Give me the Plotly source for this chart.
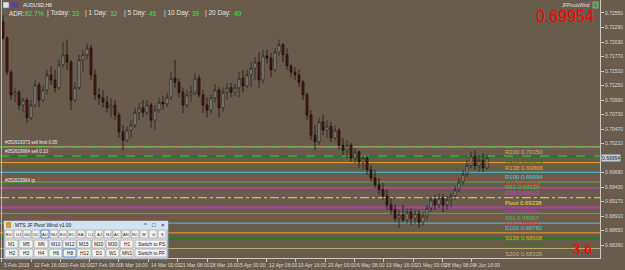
import plotly.graph_objects as go

# ---------------- DATA ----------------
opens = [0.7239,0.7210,0.7149,0.7108,0.7113,0.7090,0.7099,0.7067,0.7090,0.7126,
         0.7099,0.7117,0.7144,0.7135,0.7121,0.7162,0.7180,0.7167,0.7099,0.7121,
         0.7171,0.7180,0.7192,0.7144,0.7108,0.7103,0.7095,0.7085,0.7090,0.7072,
         0.7042,0.7027,0.7045,0.7054,0.7077,0.7085,0.7077,0.7090,0.7063,0.7081,
         0.7095,0.7092,0.7104,0.7138,0.7131,0.7113,0.7090,0.7108,0.7113,0.7138,
         0.7108,0.7090,0.7081,0.7103,0.7117,0.7085,0.7113,0.7121,0.7113,0.7121,
         0.7138,0.7124,0.7144,0.7156,0.7167,0.7135,0.7178,0.7174,0.7153,0.7185,
         0.7198,0.7180,0.7160,0.7149,0.7144,0.7131,0.7108,0.7072,0.7036,0.7024,
         0.7060,0.7045,0.7052,0.7031,0.7045,0.7018,0.7009,0.7018,0.6995,0.7006,
         0.6988,0.6995,0.6974,0.6959,0.6947,0.6938,0.6927,0.6911,0.6902,0.6887,
         0.6893,0.6884,0.6898,0.6887,0.6895,0.6880,0.6891,0.6905,0.6920,0.6911,
         0.6923,0.6911,0.6920,0.6927,0.6938,0.6952,0.6966,0.6982,0.6999,0.6981,
         0.6991,0.6977]
highs = [0.7251,0.7214,0.7153,0.7121,0.7117,0.7103,0.7103,0.7099,0.7135,0.7131,
         0.7124,0.7153,0.7160,0.7153,0.7171,0.7203,0.7207,0.7171,0.7131,0.7180,
         0.7189,0.7201,0.7198,0.7153,0.7121,0.7117,0.7106,0.7103,0.7099,0.7077,
         0.7054,0.7052,0.7063,0.7085,0.7094,0.7099,0.7099,0.7094,0.7090,0.7104,
         0.7106,0.7112,0.7149,0.7171,0.7138,0.7121,0.7117,0.7124,0.7147,0.7144,
         0.7117,0.7104,0.7108,0.7128,0.7122,0.7121,0.7130,0.7130,0.7128,0.7149,
         0.7153,0.7153,0.7167,0.7176,0.7185,0.7189,0.7189,0.7183,0.7192,0.7207,
         0.7201,0.7192,0.7164,0.7158,0.7153,0.7135,0.7113,0.7081,0.7054,0.7067,
         0.7072,0.7063,0.7060,0.7054,0.7049,0.7031,0.7027,0.7022,0.7013,0.7009,
         0.7000,0.7000,0.6982,0.6974,0.6959,0.6950,0.6938,0.6923,0.6911,0.6902,
         0.6911,0.6905,0.6905,0.6902,0.6902,0.6898,0.6911,0.6923,0.6929,0.6932,
         0.6930,0.6927,0.6932,0.6945,0.6959,0.6974,0.6991,0.7006,0.7009,0.7000,
         0.7004,0.7002]
lows = [0.7207,0.7144,0.7099,0.7095,0.7081,0.7077,0.7058,0.7063,0.7086,0.7086,
        0.7095,0.7108,0.7126,0.7113,0.7117,0.7156,0.7153,0.7081,0.7095,0.7117,
        0.7149,0.7171,0.7135,0.7099,0.7090,0.7086,0.7077,0.7068,0.7063,0.7031,
        0.7009,0.7024,0.7031,0.7049,0.7063,0.7068,0.7072,0.7049,0.7045,0.7076,
        0.7081,0.7086,0.7099,0.7121,0.7104,0.7076,0.7085,0.7095,0.7108,0.7103,
        0.7076,0.7068,0.7074,0.7095,0.7068,0.7077,0.7099,0.7104,0.7106,0.7104,
        0.7113,0.7121,0.7122,0.7135,0.7121,0.7128,0.7164,0.7140,0.7149,0.7178,
        0.7167,0.7153,0.7140,0.7135,0.7122,0.7099,0.7063,0.7027,0.7009,0.7018,
        0.7036,0.7031,0.7024,0.7027,0.7009,0.7000,0.6995,0.6988,0.6986,0.6977,
        0.6974,0.6965,0.6952,0.6941,0.6929,0.6920,0.6902,0.6893,0.6880,0.6870,
        0.6880,0.6877,0.6875,0.6877,0.6870,0.6873,0.6884,0.6898,0.6902,0.6905,
        0.6898,0.6902,0.6907,0.6920,0.6934,0.6947,0.6961,0.6977,0.6974,0.6970,
        0.6970,0.6974]
closes = [0.7210,0.7149,0.7108,0.7113,0.7090,0.7099,0.7067,0.7090,0.7126,0.7099,
          0.7117,0.7144,0.7135,0.7121,0.7162,0.7180,0.7167,0.7099,0.7121,0.7171,
          0.7180,0.7192,0.7144,0.7108,0.7103,0.7095,0.7085,0.7090,0.7072,0.7042,
          0.7027,0.7045,0.7054,0.7077,0.7085,0.7077,0.7090,0.7063,0.7081,0.7095,
          0.7092,0.7104,0.7138,0.7131,0.7113,0.7090,0.7108,0.7113,0.7138,0.7108,
          0.7090,0.7081,0.7103,0.7117,0.7085,0.7113,0.7121,0.7113,0.7121,0.7138,
          0.7124,0.7144,0.7156,0.7167,0.7135,0.7178,0.7174,0.7153,0.7185,0.7198,
          0.7180,0.7160,0.7149,0.7144,0.7131,0.7108,0.7072,0.7036,0.7024,0.7060,
          0.7045,0.7052,0.7031,0.7045,0.7018,0.7009,0.7018,0.6995,0.7006,0.6988,
          0.6995,0.6974,0.6959,0.6947,0.6938,0.6927,0.6911,0.6902,0.6887,0.6893,
          0.6884,0.6898,0.6887,0.6895,0.6880,0.6891,0.6905,0.6920,0.6911,0.6923,
          0.6911,0.6920,0.6927,0.6938,0.6952,0.6966,0.6982,0.6999,0.6981,0.6991,
          0.6977,0.69954]

date_labels = ["5 Feb 2019", "12 Feb 16:00", "20 Feb 00:00", "27 Feb 08:00", "6 Mar 16:00",
               "14 Mar 00:00", "21 Mar 08:00", "28 Mar 16:00", "5 Apr 00:00", "12 Apr 08:00",
               "19 Apr 16:00", "29 Apr 00:00", "6 May 08:00", "13 May 16:00", "21 May 00:00",
               "28 May 08:00", "4 Jun 16:00"]
date_pos = [-0.5, 7, 14.25, 21.5, 28.75, 36.25, 43.5, 51, 58.5, 65.75, 73, 80.5,
            87.75, 95, 102.5, 109.75, 117]

y_ticks = [0.72550, 0.72290, 0.72030, 0.71770, 0.71510, 0.71250, 0.70990, 0.70730,
           0.70470, 0.70210, 0.69950, 0.69690, 0.69430, 0.69170, 0.68910, 0.68650, 0.68390]

pivot_names = ["R200", "R161", "R138", "R100", "R78", "R61", "R38", "Pivot",
               "S38", "S61", "S78", "S100", "S138", "S161", "S200"]
pivot_values = [0.70150, 0.69978, 0.69868, 0.69694, 0.69596, 0.69520, 0.69413, 0.69238,
                0.69064, 0.68957, 0.68880, 0.68782, 0.68608, 0.68501, 0.68326]
pivot_colors = ["#C2B26E", "#1F7A1F", "#F0A020", "#48C8D0", "#E0302A", "#3CC03C", "#D040C8",
                "#E8E030", "#B838B0", "#3CC03C", "#E0302A", "#48C8D0", "#F0A020", "#1F7A1F", "#C2B26E"]
pivot_widths = [1, 1.5, 1, 1, 1, 1, 1, 1, 2, 1, 1, 1, 1, 1.5, 1]

order_texts = ["#052619373 sell limit 0.05", "#052619964 sell 0.10", "#052619964 tp"]
order_values = [0.70150, 0.69985, 0.69460]

adr_parts = [("ADR:", "l"), ("82.7%", "v"), ("| Today:", "l"), ("33", "v"), ("| 1 Day:", "l"),
             ("32", "v"), ("| 5 Day:", "l"), ("45", "v"), ("| 10 Day:", "l"), ("39", "v"),
             ("| 20 Day:", "l"), ("40", "v")]

current_price = "0.69954"
spread_text = "-3.6"

row1_buttons = ["EU", "UJ", "GU", "UC", "AU", "NU", "EG", "EC", "EA", "CJ", "AJ", "NJ",
                "AC", "AN", "NC", "W", "G", "S"]
row2_buttons = ["M1", "M5", "M6", "M10", "M12", "M15", "M20", "M30", "H1", "Switch to PS"]
row3_buttons = ["H2", "H3", "H4", "H6", "H8", "H12", "D1", "W1", "MN1", "Switch to PF"]

# ---------------- LAYOUT HELPERS ----------------
PW, PH = 600.0, 258.0
BG = "#6A5C4C"
FONT = "Liberation Sans"


def px(x):
    return x / PW


def py(y):
    return (PH - y) / PH


x_idx = list(range(len(closes)))

fig = go.Figure()
fig.add_trace(go.Candlestick(
    x=x_idx, open=opens, high=highs, low=lows, close=closes,
    increasing=dict(line=dict(color="#262626", width=0.8), fillcolor="#A6A6A6"),
    decreasing=dict(line=dict(color="#1C1212", width=0.8), fillcolor="#5A1414"),
    showlegend=False, hoverinfo="skip"))

shapes = []
annotations = []

# pivot lines & labels
for name, val, col, w in zip(pivot_names, pivot_values, pivot_colors, pivot_widths):
    shapes.append(dict(type="line", xref="paper", yref="y", x0=0, x1=1, y0=val, y1=val,
                       line=dict(color=col, width=w, dash="dashdot" if name == "Pivot" else "solid"),
                       layer="below"))
    annotations.append(dict(xref="paper", yref="y", x=px(503), y=val, text=f"{name} {val:.5f}",
                            xanchor="left", yanchor="top", showarrow=False,
                            font=dict(family=FONT, size=6, color=col)))

# order lines
for t, val in zip(order_texts, order_values):
    if "tp" not in t:
        shapes.append(dict(type="line", xref="paper", yref="y", x0=0, x1=1, y0=val, y1=val,
                           line=dict(color="#58C048", width=1, dash="dash"), layer="below"))
    annotations.append(dict(xref="paper", yref="y", x=px(3), y=val, text=t, xanchor="left",
                            yanchor="bottom", showarrow=False,
                            font=dict(family=FONT, size=4.5, color="#E8E8E8")))

# left border
shapes.append(dict(type="line", xref="paper", yref="paper", x0=px(1.5), x1=px(1.5), y0=0, y1=1,
                   line=dict(color="#B8B8B8", width=1)))

# date labels
for lab, pos in zip(date_labels, date_pos):
    annotations.append(dict(xref="x", yref="paper", x=pos, y=py(265), text=lab, xanchor="left",
                            yanchor="middle", xshift=1, showarrow=False,
                            font=dict(family=FONT, size=5, color="#D8D8D8")))

# header icons
shapes.append(dict(type="rect", xref="paper", yref="paper", x0=px(3), x1=px(9), y0=py(8), y1=py(2),
                   fillcolor="#D8E4F4", line=dict(color="#4060A0", width=0.5)))
shapes.append(dict(type="rect", xref="paper", yref="paper", x0=px(11), x1=px(18), y0=py(8), y1=py(2),
                   fillcolor="#3050C0", line=dict(color="#C03030", width=1)))
annotations.append(dict(xref="paper", yref="paper", x=px(21), y=py(5), text="AUDUSD,H8",
                        xanchor="left", yanchor="middle", showarrow=False,
                        font=dict(family=FONT, size=5, color="#F0F0F0")))

adr_x = [7, 23, 45, 70, 83, 108, 122, 147, 162, 190, 203, 232]
for (txt, kind), xx in zip(adr_parts, adr_x):
    annotations.append(dict(xref="paper", yref="paper", x=px(xx), y=py(13.5), text=txt,
                            xanchor="left", yanchor="middle", showarrow=False,
                            font=dict(family=FONT, size=6.5,
                                      color="#40E040" if kind == "v" else "#E4E4E4")))

# top right
annotations.append(dict(xref="paper", yref="paper", x=px(592), y=py(5.5), text="JFPivotsWind",
                        xanchor="right", yanchor="middle", showarrow=False,
                        font=dict(family=FONT, size=4.5, color="#E0E0E0")))
shapes.append(dict(type="rect", xref="paper", yref="paper", x0=px(593), x1=px(598), y0=py(8), y1=py(2),
                   fillcolor="#40A040", line=dict(color="#D0D0D0", width=0.5)))
annotations.append(dict(xref="paper", yref="paper", x=px(596), y=py(16), text=current_price,
                        xanchor="right", yanchor="middle", showarrow=False,
                        font=dict(family=FONT, size=16, color="#FF0000")))
annotations.append(dict(xref="paper", yref="paper", x=px(594), y=py(249), text=spread_text,
                        xanchor="right", yanchor="middle", showarrow=False,
                        font=dict(family=FONT, size=14, color="#FF0000")))

# current price tag on the axis (replaces the nearby tick label)
annotations.append(dict(xref="paper", yref="y", x=px(601), y=float(current_price), text=current_price,
                        xanchor="left", yanchor="middle", showarrow=False, bgcolor="#C4CCD8",
                        borderpad=0, font=dict(family=FONT, size=5, color="#202020")))

# MTS panel
shapes.append(dict(type="rect", xref="paper", yref="paper", x0=px(4), x1=px(168), y0=py(259), y1=py(221),
                   fillcolor="#E4E4E4", line=dict(color="#8096B8", width=1)))
shapes.append(dict(type="rect", xref="paper", yref="paper", x0=px(4), x1=px(168), y0=py(229), y1=py(221),
                   fillcolor="#D2E2F4", line=dict(width=0)))
shapes.append(dict(type="rect", xref="paper", yref="paper", x0=px(6), x1=px(11), y0=py(228), y1=py(222),
                   fillcolor="#C8A040", line=dict(width=0)))
annotations.append(dict(xref="paper", yref="paper", x=px(13), y=py(225), text="MTS JF Pivot Wind v1.00",
                        xanchor="left", yanchor="middle", showarrow=False,
                        font=dict(family=FONT, size=5, color="#202020")))
for sym, xx in zip(["^", "□", "×"], [145, 154, 163]):
    annotations.append(dict(xref="paper", yref="paper", x=px(xx), y=py(225), text=sym,
                            xanchor="center", yanchor="middle", showarrow=False,
                            font=dict(family=FONT, size=6, color="#202020")))

for k, lab in enumerate(row1_buttons):
    x0 = 5 + 9 * k
    sel = lab == "AU"
    shapes.append(dict(type="rect", xref="paper", yref="paper", x0=px(x0), x1=px(x0 + 8),
                       y0=py(238), y1=py(230), fillcolor="#F2F2F2",
                       line=dict(color="#3070D0" if sel else "#A8A8A8", width=0.8)))
    annotations.append(dict(xref="paper", yref="paper", x=px(x0 + 4), y=py(234), text=lab,
                            xanchor="center", yanchor="middle", showarrow=False,
                            font=dict(family=FONT, size=4, color="#202020")))

cols = [(5, 18), (19, 33), (34, 48), (49, 62), (63, 76), (77, 91), (92, 105), (106, 119),
        (120, 133), (135, 167)]
for row, (ya, yb) in zip([row2_buttons, row3_buttons], [(240, 248), (249, 257)]):
    for (x0, x1), lab in zip(cols, row):
        sel = lab == "H8"
        shapes.append(dict(type="rect", xref="paper", yref="paper", x0=px(x0), x1=px(x1),
                           y0=py(yb), y1=py(ya), fillcolor="#F2F2F2",
                           line=dict(color="#3070D0" if sel else "#A8A8A8", width=0.8)))
        annotations.append(dict(xref="paper", yref="paper", x=px((x0 + x1) / 2), y=py((ya + yb) / 2),
                                text=lab, xanchor="center", yanchor="middle", showarrow=False,
                                font=dict(family=FONT, size=4.8, color="#202020")))

tick_text = ["" if abs(v - float(current_price)) < 0.0002 else f"{v:.5f}" for v in y_ticks]

fig.update_layout(
    width=625, height=270,
    margin=dict(l=0, r=25, t=0, b=12, pad=0),
    paper_bgcolor=BG, plot_bgcolor=BG,
    shapes=shapes, annotations=annotations,
    showlegend=False,
    xaxis=dict(range=[-0.75, 149.25], rangeslider=dict(visible=False), showgrid=False,
               zeroline=False, showline=True, linecolor="#C8C8C8", linewidth=1,
               ticks="outside", ticklen=3, tickcolor="#C8C8C8", tickvals=date_pos,
               showticklabels=False, automargin=False, fixedrange=True),
    yaxis=dict(range=[0.68157, 0.72783], side="right", showgrid=False, zeroline=False,
               showline=True, linecolor="#C8C8C8", linewidth=1, ticks="outside", ticklen=3,
               tickcolor="#C8C8C8", tickvals=y_ticks, ticktext=tick_text,
               tickfont=dict(family=FONT, size=5, color="#D8D8D8"), automargin=False,
               fixedrange=True),
)

fig.write_html("out.html")
